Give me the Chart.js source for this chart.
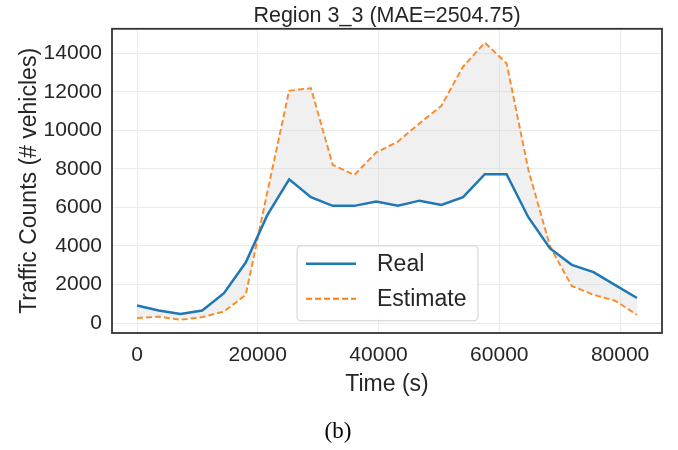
<!DOCTYPE html>
<html>
<head>
<meta charset="utf-8">
<script src="https://cdn.jsdelivr.net/npm/chart.js@4.4.1/dist/chart.umd.min.js"></script>
<style>
  html, body { margin: 0; padding: 0; background: #fff; }
  #wrap { position: relative; width: 678px; height: 450px; }
  #caption {
    position: absolute; left: 0; top: 418px; width: 676px;
    text-align: center; line-height: 26px;
    font: 23px "Liberation Serif", "Times New Roman", serif; color: #000;
  }
</style>
</head>
<body>
<div id="wrap">
  <canvas id="chart" width="678" height="450"></canvas>
  <div id="caption">(b)</div>
</div>
<script>
// time of day in seconds, one point per hour
const times = [0, 3600, 7200, 10800, 14400, 18000, 21600, 25200, 28800, 32400, 36000, 39600,
  43200, 46800, 50400, 54000, 57600, 61200, 64800, 68400, 72000, 75600, 79200, 82800];
const realCounts = [910, 650, 470, 650, 1550, 3140, 5610, 7460, 6530, 6080, 6080, 6300,
  6090, 6350, 6130, 6530, 7720, 7720, 5490, 3870, 3020, 2640, 1970, 1300];
const estimateCounts = [260, 340, 170, 310, 600, 1470, 6800, 12050, 12180, 8200, 7680, 8840,
  9410, 10360, 11260, 13300, 14540, 13470, 7940, 3970, 1930, 1470, 1160, 430];
const xTicks = [0, 20000, 40000, 60000, 80000];
const yTicks = [0, 2000, 4000, 6000, 8000, 10000, 12000, 14000];

const textColor = '#262626';
const fontFamily = '"Liberation Sans", Arial, sans-serif';
const realColor = '#1f77b4';
const estColor = '#ff7f0e';
const estDash = [6, 3];

// dark frame around the plot area, like matplotlib spines
const framePlugin = {
  id: 'frame',
  afterDatasetsDraw(chart) {
    const { ctx, chartArea: a } = chart;
    ctx.save();
    ctx.strokeStyle = '#333';
    ctx.lineWidth = 1.8;
    ctx.strokeRect(a.left, a.top, a.right - a.left, a.bottom - a.top);
    ctx.restore();
  }
};

// legend box drawn inside the plot, lower middle
const innerLegend = {
  id: 'innerLegend',
  afterDraw(chart) {
    const { ctx, chartArea: a } = chart;
    const x = a.left + 185, y = a.top + 217, w = 181, h = 75;
    ctx.save();
    ctx.beginPath();
    ctx.roundRect(x, y, w, h, 4);
    ctx.fillStyle = 'rgba(255,255,255,0.85)';
    ctx.fill();
    ctx.strokeStyle = '#d0d0d0';
    ctx.lineWidth = 1;
    ctx.stroke();

    const rows = [
      { label: 'Real', color: realColor, dash: [], width: 2.5 },
      { label: 'Estimate', color: estColor, dash: estDash, width: 2 }
    ];
    rows.forEach((r, i) => {
      const ly = y + 18 + i * 35;
      ctx.beginPath();
      ctx.setLineDash(r.dash);
      ctx.strokeStyle = r.color;
      ctx.lineWidth = r.width;
      ctx.moveTo(x + 9, ly);
      ctx.lineTo(x + 59, ly);
      ctx.stroke();
      ctx.setLineDash([]);
      ctx.fillStyle = textColor;
      ctx.font = '23px ' + fontFamily;
      ctx.textBaseline = 'middle';
      ctx.fillText(r.label, x + 80, ly + 1);
    });
    ctx.restore();
  }
};

new Chart(document.getElementById('chart'), {
  type: 'line',
  data: {
    datasets: [
      {
        label: 'Real',
        data: times.map((t, i) => ({ x: t, y: realCounts[i] })),
        borderColor: realColor,
        borderWidth: 2.5,
        pointRadius: 0,
        tension: 0,
        fill: { target: 1, above: 'rgba(211,211,211,0.35)', below: 'rgba(211,211,211,0.35)' }
      },
      {
        label: 'Estimate',
        data: times.map((t, i) => ({ x: t, y: estimateCounts[i] })),
        borderColor: estColor,
        borderWidth: 2,
        borderDash: estDash,
        pointRadius: 0,
        tension: 0,
        fill: false
      }
    ]
  },
  options: {
    responsive: false,
    animation: false,
    layout: { padding: { left: 0, right: 16, top: 0, bottom: 50 } },
    plugins: {
      legend: { display: false },
      tooltip: { enabled: false },
      title: {
        display: true,
        text: 'Region 3_3 (MAE=2504.75)',
        color: textColor,
        fullSize: false,
        font: { family: fontFamily, size: 21.5, weight: 'normal' },
        padding: { top: 3, bottom: 0 }
      }
    },
    scales: {
      x: {
        type: 'linear',
        min: -4140,
        max: 86940,
        afterBuildTicks: axis => { axis.ticks = xTicks.map(v => ({ value: v })); },
        afterFit: s => { s.height = 67; },
        grid: { color: '#ebebeb', drawTicks: false },
        border: { display: false },
        ticks: {
          color: textColor, padding: 10, maxRotation: 0,
          font: { family: fontFamily, size: 21 },
          callback: v => String(v)
        },
        title: {
          display: true, text: 'Time (s)', color: textColor,
          font: { family: fontFamily, size: 23 }, padding: { top: 0, bottom: 2 }
        }
      },
      y: {
        min: -517,
        max: 15267,
        afterBuildTicks: axis => { axis.ticks = yTicks.map(v => ({ value: v })); },
        afterFit: s => { s.width = 112; },
        grid: { color: '#ebebeb', drawTicks: false },
        border: { display: false },
        ticks: {
          color: textColor, padding: 10,
          font: { family: fontFamily, size: 21 },
          callback: v => String(v)
        },
        title: {
          display: true, text: 'Traffic Counts (# vehicles)', color: textColor,
          font: { family: fontFamily, size: 23 }, padding: { top: 16, bottom: 0 }
        }
      }
    }
  },
  plugins: [framePlugin, innerLegend]
});
</script>
</body>
</html>
